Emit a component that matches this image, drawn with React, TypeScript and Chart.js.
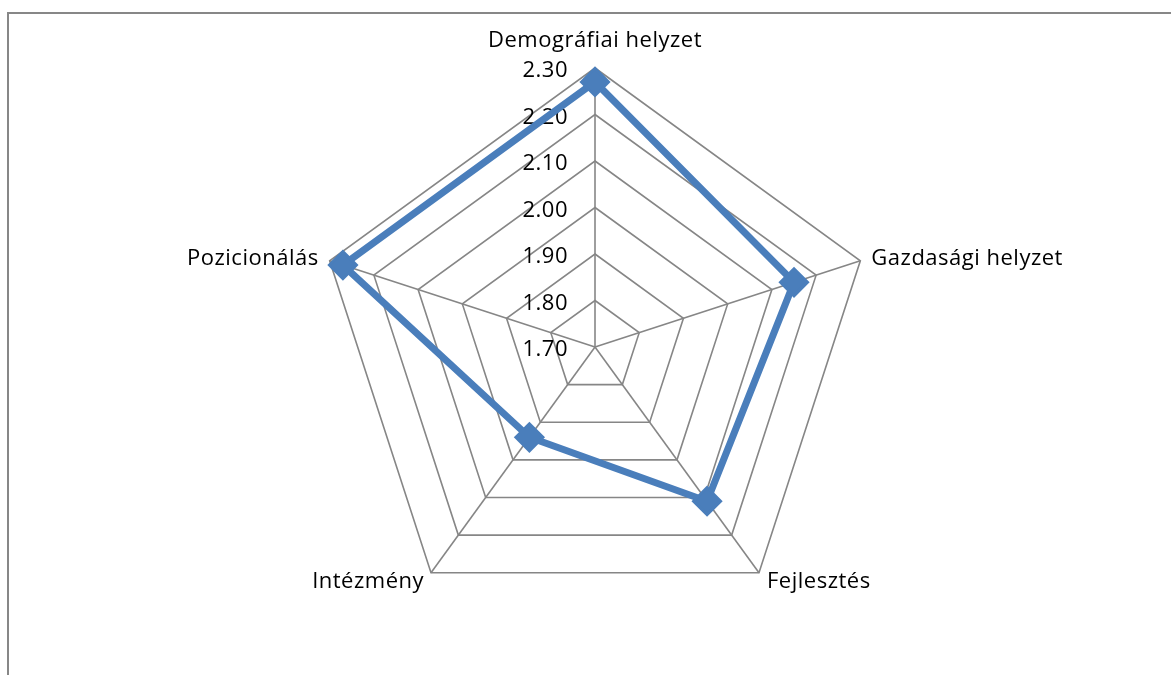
import React, { useEffect, useRef } from "react";
import { Chart, registerables } from "chart.js";

Chart.register(...registerables);

const categories = ["Demográfiai helyzet", "Gazdasági helyzet", "Fejlesztés", "Intézmény", "Pozicionálás"];
const values = [2.27, 2.15, 2.11, 1.94, 2.27];
const scaleMin = 1.7;
const scaleMax = 2.3;
const scaleStep = 0.1;

const FONT = "'Open Sans', Arial, sans-serif";
const FONT_SIZE = 22;

const labelsPlugin = {
  id: "customLabels",
  beforeDatasetsDraw(chart: any) {
    const scale = chart.scales.r;
    const ctx = chart.ctx;
    ctx.save();
    ctx.font = `${FONT_SIZE}px ${FONT}`;
    (ctx as any).letterSpacing = "0.5px";
    ctx.fillStyle = "#000";
    ctx.textBaseline = "alphabetic";
    // tick labels
    ctx.textAlign = "right";
    scale.ticks.forEach((t: any) => {
      const d = scale.getDistanceFromCenterForValue(t.value);
      ctx.fillText(Number(t.value).toFixed(2), scale.xCenter - 27, scale.yCenter - d + 9);
    });
    // point labels
    const labels: string[] = chart.data.labels;
    labels.forEach((lab, i) => {
      const p = scale.getPointPosition(i, scale.drawingArea);
      const dx = p.x - scale.xCenter;
      const dy = p.y - scale.yCenter;
      if (Math.abs(dx) < 1) {
        ctx.textAlign = "center";
        ctx.fillText(lab, p.x, p.y - 21);
      } else if (dy < 0) {
        ctx.textAlign = dx > 0 ? "left" : "right";
        ctx.fillText(lab, p.x + (dx > 0 ? 11 : -11), p.y + 4);
      } else {
        ctx.textAlign = dx > 0 ? "left" : "right";
        ctx.fillText(lab, p.x + (dx > 0 ? 8 : -7), p.y + 15);
      }
    });
    ctx.restore();
  },
};

export default function App() {
  const ref = useRef<HTMLCanvasElement>(null);
  useEffect(() => {
    if (!ref.current) return;
    const chart = new Chart(ref.current, {
      type: "radar",
      data: {
        labels: categories,
        datasets: [
          {
            data: values,
            borderColor: "#4a7ebb",
            backgroundColor: "#4a7ebb",
            borderWidth: 7,
            borderJoinStyle: "round",
            pointStyle: "rectRot",
            pointRadius: 13.5,
            pointBorderWidth: 3,
            pointBackgroundColor: "#4a7ebb",
            pointBorderColor: "#4a7ebb",
            fill: false,
          },
        ],
      },
      options: {
        animation: false,
        responsive: false,
        layout: { padding: { left: 19, right: 0, top: 68, bottom: 49 } },
        plugins: { legend: { display: false }, tooltip: { enabled: false } },
        scales: {
          r: {
            min: scaleMin,
            max: scaleMax,
            ticks: { stepSize: scaleStep, display: false },
            grid: { color: "#868686", lineWidth: 1.6 },
            angleLines: { color: "#868686", lineWidth: 1.6 },
            pointLabels: { display: false },
          },
        },
      },
      plugins: [labelsPlugin],
    });
    return () => chart.destroy();
  }, []);
  return (
    <>
      <div
        style={{
          position: "fixed",
          left: 7,
          top: 12,
          width: 1300,
          height: 800,
          borderLeft: "2px solid #878787",
          borderTop: "2px solid #878787",
        }}
      />
      <canvas ref={ref} width={1171} height={675} style={{ position: "fixed", left: 0, top: 0 }} />
    </>
  );
}
